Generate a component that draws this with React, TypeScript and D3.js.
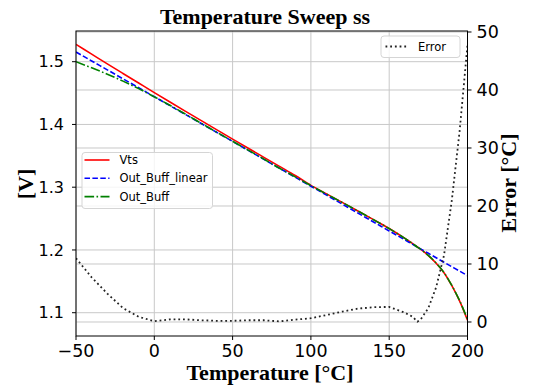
import { useEffect } from 'react';
import * as d3 from 'd3';

// temperature grid (°C)
const temps = [-50, -40, -30, -20, -10, 0, 10, 20, 30, 40, 50, 60, 70, 80, 90, 100, 110, 120, 130, 140, 150, 160, 165, 168, 170, 175, 180, 185, 190, 195, 200];

// voltages [V]
const vts = [1.5275, 1.512, 1.4965, 1.4812, 1.466, 1.4508, 1.4357, 1.4208, 1.406, 1.3913, 1.3767, 1.3621, 1.3476, 1.3331, 1.3186, 1.303, 1.2893, 1.2758, 1.2622, 1.2484, 1.2342, 1.2185, 1.2101, 1.2047, 1.2012, 1.191, 1.1788, 1.1638, 1.143, 1.1185, 1.088];
const outBuffLinear = [1.5155, 1.5012, 1.487, 1.4727, 1.4585, 1.4442, 1.4299, 1.4157, 1.4014, 1.3872, 1.3729, 1.3586, 1.3444, 1.3301, 1.3159, 1.3016, 1.2874, 1.2731, 1.2588, 1.2446, 1.2303, 1.2161, 1.2089, 1.2046, 1.2018, 1.1947, 1.1875, 1.1804, 1.1733, 1.1662, 1.159];
const outBuff = [1.5, 1.4902, 1.48, 1.469, 1.4571, 1.444, 1.4305, 1.4163, 1.4018, 1.3874, 1.3732, 1.359, 1.3448, 1.3302, 1.3165, 1.3025, 1.289, 1.2757, 1.2621, 1.2482, 1.234, 1.2184, 1.21, 1.2045, 1.2012, 1.1913, 1.179, 1.164, 1.1434, 1.1191, 1.0895];

// error [°C]
const errorC = [11.0, 7.7, 4.9, 2.4, 0.9, 0.15, 0.45, 0.45, 0.3, 0.2, 0.2, 0.3, 0.3, 0.1, 0.4, 0.65, 1.2, 1.8, 2.3, 2.55, 2.6, 1.6, 0.9, 0.05, 0.4, 2.4, 6.0, 11.5, 21, 33, 47.8];

const xTicks = [-50, 0, 50, 100, 150, 200];
const vTicks = [1.1, 1.2, 1.3, 1.4, 1.5];
const eTicks = [0, 10, 20, 30, 40, 50];

const W = 537;
const H = 387;
const left = 76;
const right = 467.5;
const top = 31;
const bottom = 336;

const serif = '"Liberation Serif", "Times New Roman", serif';
const sans = '"DejaVu Sans", sans-serif';

export default function App() {
  useEffect(() => {
    document.body.style.margin = '0';
  }, []);

  const x = d3.scaleLinear().domain([-50, 200]).range([left, right]);
  const yV = d3.scaleLinear().domain([1.0629, 1.5489]).range([bottom, top]);
  const yE = d3.scaleLinear().domain([-2.414, 50.17]).range([bottom, top]);

  const vLine = d3.line<number>()
    .x((_, i) => x(temps[i]))
    .y(d => yV(d))
    .curve(d3.curveMonotoneX);
  const eLine = d3.line<number>()
    .x((_, i) => x(temps[i]))
    .y(d => yE(d));

  const grid = '#c8c8c8';

  return (
    <svg width={W} height={H} style={{ display: 'block', background: '#fff' }}>
      <defs>
        <clipPath id="plot">
          <rect x={left} y={top} width={right - left} height={bottom - top} />
        </clipPath>
      </defs>

      {/* grid */}
      {xTicks.map(t => (
        <line key={'gx' + t} x1={x(t)} x2={x(t)} y1={top} y2={bottom} stroke={grid} strokeWidth={1} />
      ))}
      {vTicks.map(t => (
        <line key={'gv' + t} x1={left} x2={right} y1={yV(t)} y2={yV(t)} stroke={grid} strokeWidth={1} />
      ))}
      {eTicks.map(t => (
        <line key={'ge' + t} x1={left} x2={right} y1={yE(t)} y2={yE(t)} stroke={grid} strokeWidth={1} />
      ))}

      <g clipPath="url(#plot)" fill="none" strokeWidth={1.6}>
        <path d={vLine(vts) ?? ''} stroke="#ff0000" />
        <path d={vLine(outBuffLinear) ?? ''} stroke="#0000ff" strokeDasharray="5.5 2.4" />
        <path d={vLine(outBuff) ?? ''} stroke="#008000" strokeDasharray="9.6 2.4 1.6 2.4" />
      </g>

      {/* legend left */}
      <g fontFamily={sans} fontSize={11.5}>
        <rect x={82} y={152.5} width={130.5} height={56} rx={3} fill="#fff" fillOpacity={0.8} stroke="#d5d5d5" />
        {[
          { name: 'Vts', color: '#ff0000', dash: undefined },
          { name: 'Out_Buff_linear', color: '#0000ff', dash: '5.5 2.4' },
          { name: 'Out_Buff', color: '#008000', dash: '9.6 2.4 1.6 2.4' },
        ].map((s, i) => (
          <g key={s.name} transform={`translate(0, ${160 + i * 18.3})`}>
            <line x1={84.5} x2={109.5} y1={0} y2={0} stroke={s.color} strokeWidth={1.6} strokeDasharray={s.dash} />
            <text x={119.5} y={0} dy="0.36em" fill="#000">{s.name}</text>
          </g>
        ))}
      </g>

      {/* error line */}
      <g clipPath="url(#plot)">
        <path d={eLine(errorC) ?? ''} fill="none" stroke="#222" strokeWidth={1.8} strokeDasharray="1.8 2.9" />
      </g>

      {/* legend right */}
      <g fontFamily={sans} fontSize={11.5}>
        <rect x={381} y={36} width={79} height={21.5} rx={3} fill="#fff" fillOpacity={0.8} stroke="#d5d5d5" />
        <line x1={385.5} x2={407} y1={46.5} y2={46.5} stroke="#222" strokeWidth={1.8} strokeDasharray="1.8 2.9" />
        <text x={418} y={46.5} dy="0.36em" fill="#000">Error</text>
      </g>

      {/* frame */}
      <rect x={left} y={top} width={right - left} height={bottom - top} fill="none" stroke="#000" strokeWidth={1} />

      {/* x axis ticks */}
      <g fontFamily={sans} fontSize={17.5} textAnchor="middle">
        {xTicks.map(t => (
          <g key={'xt' + t}>
            <line x1={x(t)} x2={x(t)} y1={bottom} y2={bottom + 4} stroke="#000" />
            <text x={x(t)} y={356.5}>{t < 0 ? '\u2212' + Math.abs(t) : t}</text>
          </g>
        ))}
      </g>

      {/* left ticks */}
      <g fontFamily={sans} fontSize={16} textAnchor="end">
        {vTicks.map(t => (
          <g key={'vt' + t}>
            <line x1={left - 4} x2={left} y1={yV(t)} y2={yV(t)} stroke="#000" />
            <text x={64} y={yV(t)} dy="0.36em">{t.toFixed(1)}</text>
          </g>
        ))}
      </g>

      {/* right ticks */}
      <g fontFamily={sans} fontSize={17.5} textAnchor="start">
        {eTicks.map(t => (
          <g key={'et' + t}>
            <line x1={right} x2={right + 4} y1={yE(t)} y2={yE(t)} stroke="#000" />
            <text x={476.5} y={yE(t)} dy="0.36em">{t}</text>
          </g>
        ))}
      </g>

      {/* titles */}
      <g fontFamily={serif} fontWeight="bold" fontSize={22} textAnchor="middle" fill="#000">
        <text x={265} y={24}>Temperature Sweep ss</text>
        <text x={270} y={379.5}>Temperature [°C]</text>
        <text transform={`translate(33, 184) rotate(-90)`}>[V]</text>
        <text transform={`translate(516, 183) rotate(-90)`}>Error [°C]</text>
      </g>
    </svg>
  );
}
